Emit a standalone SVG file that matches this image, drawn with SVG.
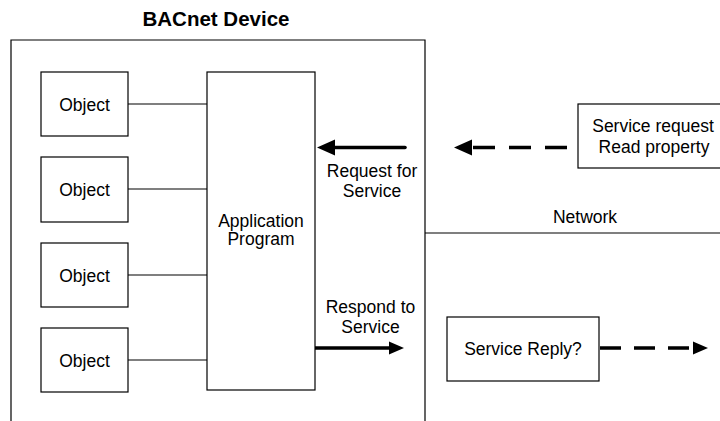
<svg xmlns="http://www.w3.org/2000/svg" width="720" height="421" viewBox="0 0 720 421">
<defs>
<style>
.box{fill:#fff;stroke:#000;stroke-width:1.2}
.ln{stroke:#000;stroke-width:1.2;fill:none}
.t{font-family:"Liberation Sans",Arial,sans-serif;font-size:17.5px;fill:#000;text-anchor:middle}
.title{font-family:"Liberation Sans",Arial,sans-serif;font-size:20.5px;font-weight:bold;fill:#000;text-anchor:middle}
.thick{stroke:#000;stroke-width:3.6;fill:none}
.dash{stroke:#000;stroke-width:3.6;fill:none;stroke-dasharray:22 14}
</style>
<marker id="headL" markerUnits="userSpaceOnUse" markerWidth="20" markerHeight="20" refX="0" refY="8" orient="auto" overflow="visible"><path d="M0,0 L18,8 L0,16 z" fill="#000"/></marker>
<marker id="headS" markerUnits="userSpaceOnUse" markerWidth="20" markerHeight="20" refX="0" refY="6.5" orient="auto" overflow="visible"><path d="M0,0 L15,6.5 L0,13 z" fill="#000"/></marker>
</defs>
<rect width="720" height="421" fill="#fff"/>
<g id="device">
<path class="ln" d="M11,421 V40 H425 V421"/>
<text class="title" x="216" y="26">BACnet Device</text>
</g>
<g id="obj1"><rect class="box" x="41" y="72" width="87" height="64"/><text class="t" x="84.5" y="110.5">Object</text></g>
<g id="obj2"><rect class="box" x="41" y="157" width="87" height="65"/><text class="t" x="84.5" y="196">Object</text></g>
<g id="obj3"><rect class="box" x="41" y="243" width="87" height="64"/><text class="t" x="84.5" y="281.5">Object</text></g>
<g id="obj4"><rect class="box" x="41" y="328" width="87" height="64"/><text class="t" x="84.5" y="366.5">Object</text></g>
<g id="app"><rect class="box" x="207" y="72" width="108" height="318"/><text class="t" x="261" y="227">Application</text><text class="t" x="261" y="245">Program</text></g>
<g id="network"><line class="ln" x1="425" y1="233" x2="720" y2="233"/><text class="t" x="585" y="223">Network</text></g>
<g id="svcreq"><rect class="box" x="578" y="104" width="150" height="64"/><text class="t" x="653" y="131.5">Service request</text><text class="t" x="654" y="152.5">Read property</text></g>
<g id="svcreply"><rect class="box" x="447" y="317" width="152" height="64"/><text class="t" x="523" y="355">Service Reply?</text></g>
<g id="labels">
<text class="t" x="372" y="177">Request for</text><text class="t" x="372" y="196.5">Service</text>
<text class="t" x="370.5" y="313">Respond to</text><text class="t" x="370.5" y="333">Service</text>
</g>
<g id="connectors">
<line class="ln" x1="128" y1="104" x2="207" y2="104"/>
<line class="ln" x1="128" y1="189" x2="207" y2="189"/>
<line class="ln" x1="128" y1="275" x2="207" y2="275"/>
<line class="ln" x1="128" y1="360" x2="207" y2="360"/>
<line class="thick" x1="405" y1="147.5" x2="335" y2="147.5" stroke-linecap="round" marker-end="url(#headL)"/>
<line class="dash" x1="567" y1="147.5" x2="472" y2="147.5" marker-end="url(#headL)"/>
<line class="thick" x1="315" y1="348" x2="389" y2="348" marker-end="url(#headS)"/>
<line class="dash" x1="600" y1="348" x2="693" y2="348" style="stroke-dasharray:21 13" marker-end="url(#headS)"/>
</g>
</svg>
